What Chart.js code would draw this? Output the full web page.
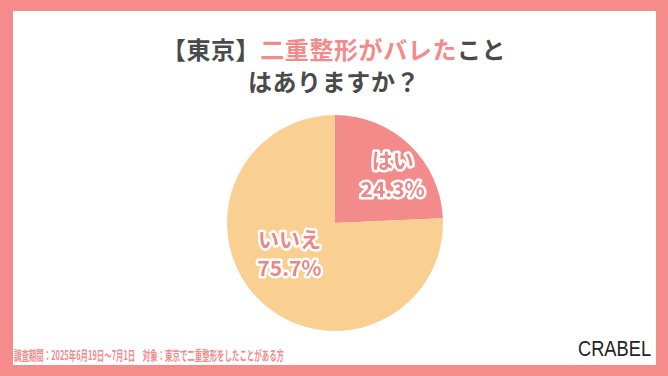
<!DOCTYPE html>
<html>
<head>
<meta charset="utf-8">
<script src="https://cdn.jsdelivr.net/npm/chart.js@4"></script>
<style>
  html, body { margin: 0; padding: 0; }
  body { width: 668px; height: 376px; background: #F58C8B; position: relative; overflow: hidden; font-family: "Noto Sans CJK JP", sans-serif; }
  #panel { position: absolute; left: 13px; top: 11px; width: 643px; height: 354px; background: #fff; }
  #title { position: absolute; left: 0; top: 33px; width: 668px; text-align: center; font-size: 24px; font-weight: 700; line-height: 32px; color: #4a4a4a; letter-spacing: 0.6px; }
  #title .hl { color: #F48B8B; }
  #pieWrap { position: absolute; left: 227px; top: 115px; width: 216px; height: 216px; }
  #footer { position: absolute; left: 14px; top: 347px; font-size: 13px; line-height: 16px; color: #F28B8B; white-space: nowrap; transform-origin: 0 0; font-weight: 700; }
  #logo { position: absolute; left: 578px; top: 336px; font-family: "Liberation Sans", sans-serif; font-size: 22px; line-height: 26px; color: #222; transform-origin: 0 0; transform: scaleX(0.83); }
</style>
</head>
<body>
<div id="panel"></div>
<div id="title">【東京】<span class="hl">二重整形がバレた</span>こと<br>はありますか？</div>
<div id="pieWrap"><canvas id="pie" width="216" height="216"></canvas></div>
<div id="footer">調査期間：2025年6月19日～7月1日　対象：東京で二重整形をしたことがある方</div>
<div id="logo">CRABEL</div>
<script>
const categories = ["はい", "いいえ"];
const values = [24.3, 75.7];
const sliceColors = ["#F48B8B", "#FAD092"];

// squeeze footer to its width in the picture
const footer = document.getElementById('footer');
footer.style.transform = 'scaleX(' + (270 / footer.scrollWidth) + ')';

// label placement per slice: angle shift (deg) from slice middle, radius fraction
const labelPlace = [[6, 0.70], [12, 0.51]];

const pieLabels = {
  id: 'pieLabels',
  afterDatasetsDraw(chart) {
    const ctx = chart.ctx;
    const meta = chart.getDatasetMeta(0);
    meta.data.forEach(function(arc, i) {
      const p = arc.getProps(['x', 'y', 'startAngle', 'endAngle', 'outerRadius'], true);
      const a = (p.startAngle + p.endAngle) / 2 + labelPlace[i][0] * Math.PI / 180;
      const r = p.outerRadius * labelPlace[i][1];
      const cx = p.x + Math.cos(a) * r;
      const cy = p.y + Math.sin(a) * r;
      const lines = [categories[i], values[i].toFixed(1) + '%'];
      ctx.save();
      ctx.font = '700 21px "Noto Sans CJK JP", sans-serif';
      ctx.textAlign = 'center';
      ctx.textBaseline = 'middle';
      ctx.lineJoin = 'round';
      ctx.lineWidth = 5;
      ctx.strokeStyle = '#fff';
      ctx.fillStyle = '#F08585';
      lines.forEach(function(t, k) {
        const y = cy + (k - 0.5) * 29;
        ctx.strokeText(t, cx, y);
        ctx.fillText(t, cx, y);
      });
      ctx.restore();
    });
  }
};

new Chart(document.getElementById('pie'), {
  type: 'pie',
  data: {
    labels: categories,
    datasets: [{
      data: values,
      backgroundColor: sliceColors,
      borderWidth: 0
    }]
  },
  options: {
    responsive: false,
    animation: false,
    layout: { padding: 0 },
    plugins: {
      legend: { display: false },
      tooltip: { enabled: false }
    }
  },
  plugins: [pieLabels]
});
</script>
</body>
</html>
